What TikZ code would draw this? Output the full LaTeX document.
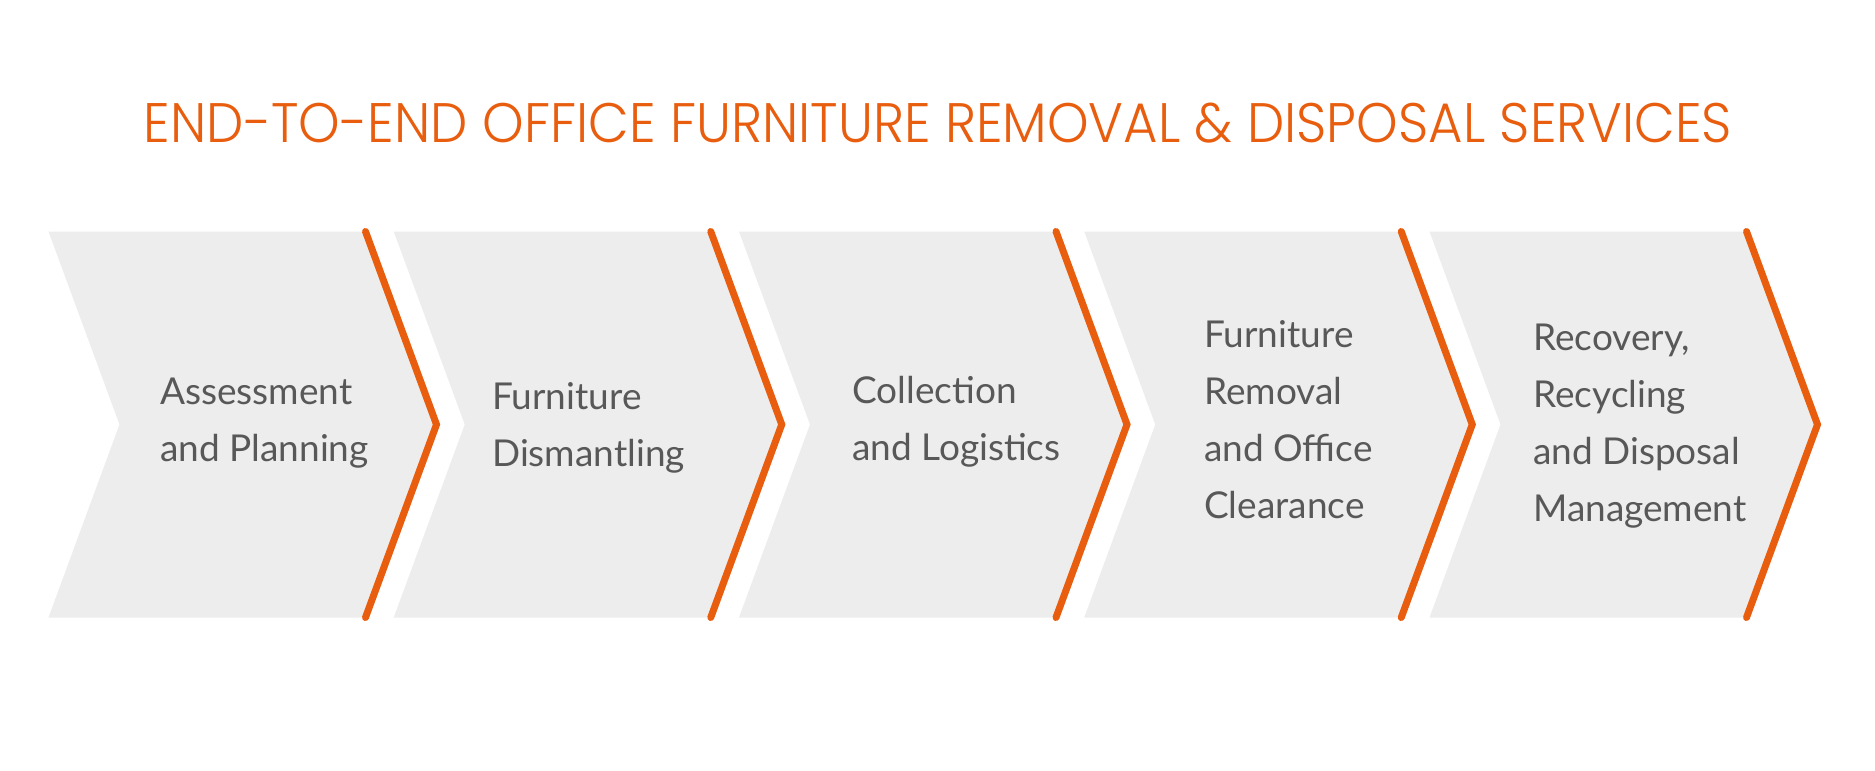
\documentclass[tikz,border=0pt]{standalone}
\usepackage{fontspec}
\usepackage{graphicx}
\IfFontExistsTF{Lato}{\setmainfont{Lato}}{\setmainfont{Liberation Sans}}
\IfFontExistsTF{Poppins-Light.otf}{\newfontfamily\titlefont{Poppins-Light.otf}}{%
  \IfFontExistsTF{Poppins-Light.ttf}{\newfontfamily\titlefont{Poppins-Light.ttf}}{%
    \IfFontExistsTF{Poppins Light}{\newfontfamily\titlefont{Poppins Light}}{%
      \IfFontExistsTF{Poppins-ExtraLight.otf}{\newfontfamily\titlefont{Poppins-ExtraLight.otf}}{\newfontfamily\titlefont{Poppins}}}}}
\definecolor{accent}{RGB}{232,93,14}
\definecolor{panel}{RGB}{237,237,237}
\definecolor{txt}{RGB}{88,88,88}
\tikzset{
  panelfill/.style={fill=panel},
  edgeline/.style={draw=accent, line width=7pt, line cap=round, line join=miter},
  steptext/.style={anchor=base west, inner sep=0pt, text=txt, font=\fontsize{37}{57.3}\selectfont},
  titletext/.style={anchor=base, inner sep=0pt, text=accent}
}
\begin{document}
\begin{tikzpicture}[x=1pt,y=-1pt]
\useasboundingbox (0,0) rectangle (1875,771);
\fill[white] (0,0) rectangle (1875,771);
\foreach \i in {0,...,4}{
  \pgfmathsetmacro\xa{48.5+345.25*\i}
  \fill[panelfill] (\xa,231.5) -- ++(317,0) -- ++(71,193) -- ++(-71,193) -- ++(-317,0) -- ++(71,-193) -- cycle;
  \draw[edgeline] (\xa+317,231.5) -- ++(71,193) -- ++(-71,193);
}
\node[titletext] (title) at (938,142) {\resizebox{1588pt}{39.5pt}{\titlefont END-TO-END OFFICE FURNITURE REMOVAL \& DISPOSAL SERVICES}};
\node[steptext] (s1) at (160,404) {\begin{tabular}[t]{@{}l@{}}Assessment\\and Planning\end{tabular}};
\node[steptext] (s2) at (492,409) {\begin{tabular}[t]{@{}l@{}}Furniture\\Dismantling\end{tabular}};
\node[steptext] (s3) at (852,403) {\begin{tabular}[t]{@{}l@{}}Collection\\and Logistics\end{tabular}};
\node[steptext] (s4) at (1204,347) {\begin{tabular}[t]{@{}l@{}}Furniture\\Removal\\and Office\\Clearance\end{tabular}};
\node[steptext] (s5) at (1533,350) {\begin{tabular}[t]{@{}l@{}}Recovery,\\Recycling\\and Disposal\\Management\end{tabular}};
\end{tikzpicture}
\end{document}
